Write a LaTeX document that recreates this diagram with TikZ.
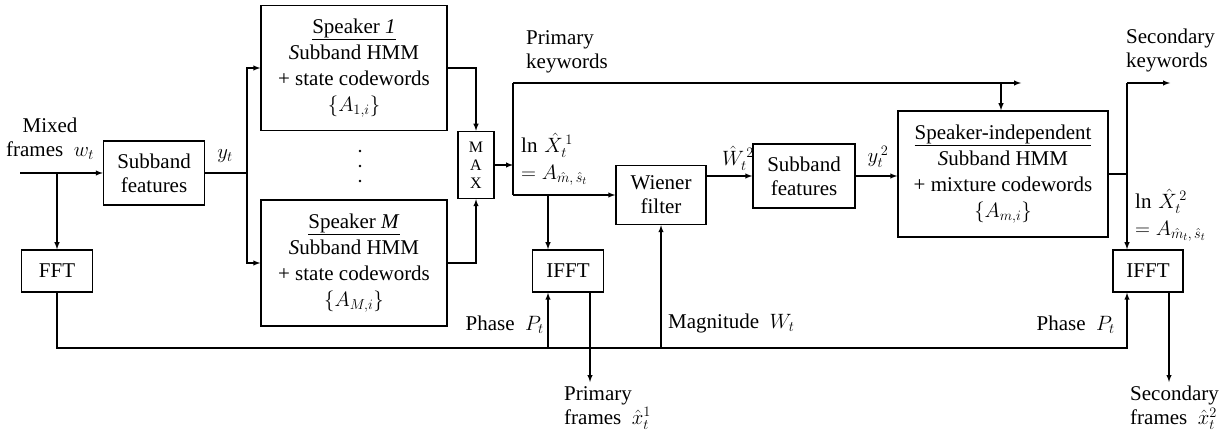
\documentclass[tikz,border=0pt]{standalone}
\usepackage{fontspec}
\setmainfont{Liberation Serif}
\usetikzlibrary{arrows}
\usetikzlibrary{positioning}

\tikzset{
  blk/.style={draw, line width=1.5pt, align=center, inner sep=1pt,
    font=\fontsize{21}{24}\selectfont},
  hmm/.style={blk, font=\fontsize{21}{26}\selectfont},
  lbl/.style={align=left, inner sep=0pt, font=\fontsize{21}{24}\selectfont},
  wire/.style={line width=1.4pt},
}

\begin{document}
\begin{tikzpicture}[x=1pt, y=-1pt, >=latex]
  \useasboundingbox (0,0) rectangle (1231,443);

  % blocks
  \node[blk, minimum width=101pt, minimum height=64pt] (sub1) at (154,173) {Subband\\features};
  \node[blk, minimum width=71pt, minimum height=42pt] (fft) at (57,271) {FFT};
  \node[hmm, minimum width=186pt, minimum height=125pt] (spk1) at (354,68)
    {\underline{Speaker \textit{1}}\\\textit{S}ubband HMM\\+ state codewords\\$\{A_{1,i}\}$};
  \node[hmm, minimum width=186pt, minimum height=126pt] (spkM) at (354,263)
    {\underline{Speaker \textit{M}}\\\textit{S}ubband HMM\\+ state codewords\\$\{A_{M,i}\}$};
  \node[blk, minimum width=36pt, minimum height=67pt, font=\fontsize{16}{18}\selectfont] (max) at (476,165) {M\\A\\X};
  \node[blk, minimum width=90pt, minimum height=59pt] (wien) at (661,195) {Wiener\\filter};
  \node[blk, minimum width=102pt, minimum height=64pt] (sub2) at (804,176) {Subband\\features};
  \node[hmm, minimum width=210pt, minimum height=126pt] (spki) at (1003,174)
    {\underline{Speaker-independent}\\\textit{S}ubband HMM\\+ mixture codewords\\$\{A_{m,i}\}$};
  \node[blk, minimum width=71pt, minimum height=42pt] (ifft1) at (568,271) {IFFT};
  \node[blk, minimum width=70pt, minimum height=42pt] (ifft2) at (1148,271) {IFFT};

  % dots between the speakers
  \foreach \y in {151,166,181} \fill (360,\y) circle (1.3pt);

  % branch points
  \coordinate (in) at (20,173);
  \coordinate (inbr) at (57,173);
  \coordinate (ybr) at (247,173);
  \coordinate (mx) at (513,165);
  \coordinate (kw1) at (513,83);
  \coordinate (xbot) at (513,195);
  \coordinate (ifbr) at (548,195);
  \coordinate (kwbr) at (1001,83);
  \coordinate (kwend) at (1021,83);
  \coordinate (sbr) at (1127,174);
  \coordinate (skw) at (1127,83);
  \coordinate (skwend) at (1170,83);
  \coordinate (pb) at (1127,348);
  \coordinate (ph1) at (548,348);
  \coordinate (mag) at (661,348);
  \coordinate (o1) at (590,382);
  \coordinate (o2) at (1169,382);

  % connectors
  \draw[wire, ->] (in) -- (sub1.west);
  \draw[wire, ->] (inbr) -- (fft.north);
  \draw[wire] (sub1.east) -- (ybr);
  \draw[wire, ->] (ybr) |- (spk1.west);
  \draw[wire, ->] (ybr) |- (spkM.west);
  \draw[wire, ->] (spk1.east) -| (max.north);
  \draw[wire, ->] (spkM.east) -| (max.south);
  \draw[wire, ->] (max.east) -- (mx);
  \draw[wire] (kw1) -- (xbot);
  \draw[wire, ->] (xbot) -- (wien.west);
  \draw[wire, ->] (kw1) -- (kwend);
  \draw[wire, ->] (kwbr) -- (kwbr |- spki.north);
  \draw[wire, ->] (ifbr) -- (ifbr |- ifft1.north);
  \draw[wire, ->] (wien.east |- sub2.west) -- (sub2.west);
  \draw[wire, ->] (sub2.east) -- (sub2.east -| spki.west);
  \draw[wire] (spki.east) -- (sbr);
  \draw[wire, ->] (skw) -- (skwend);
  \draw[wire, ->] (skw) -- (skw |- ifft2.north);
  \draw[wire, ->] (fft.south) |- (pb) -- (pb |- ifft2.south);
  \draw[wire, ->] (ph1) -- (ph1 |- ifft1.south);
  \draw[wire, ->] (mag) -- (wien.south);
  \draw[wire, ->] (o1 |- ifft1.south) -- (o1);
  \draw[wire, ->] (o2 |- ifft2.south) -- (o2);

  % labels
  \node[lbl, align=center] (lmix) at (50,139) {Mixed\\frames \ $w_t$};
  \node[lbl] (ly) at (225,156) {$y_t$};
  \node[lbl, anchor=west] (lpkw) at (526,52) {Primary\\keywords};
  \node[lbl, anchor=west] (lx1) at (521,159) {$\ln\,\hat{X}_t^{\,1}$\\[3pt]$=A_{\hat{m},\,\hat{s}_t}$};
  \node[lbl] (lw2) at (738,158) {$\hat{W}_t^{\,2}$};
  \node[lbl] (ly2) at (878,157) {$y_t^{\,2}$};
  \node[lbl, anchor=west] (lskw) at (1126,50) {Secondary\\keywords};
  \node[lbl, anchor=west] (lx2) at (1135,215) {$\ln\,\hat{X}_t^{\,2}$\\[3pt]$=A_{\hat{m}_t,\,\hat{s}_t}$};
  \node[lbl, anchor=east] (lph1) at (544,325) {Phase \ $P_t$};
  \node[lbl, anchor=west] (lmag) at (668,323) {Magnitude \ $W_t$};
  \node[lbl, anchor=east] (lph2) at (1115,325) {Phase \ $P_t$};
  \node[lbl, anchor=north west] (lpf) at (564,386) {Primary\\frames \ $\hat{x}_t^1$};
  \node[lbl, anchor=north west] (lsf) at (1130,386) {Secondary\\frames \ $\hat{x}_t^2$};
\end{tikzpicture}
\end{document}
